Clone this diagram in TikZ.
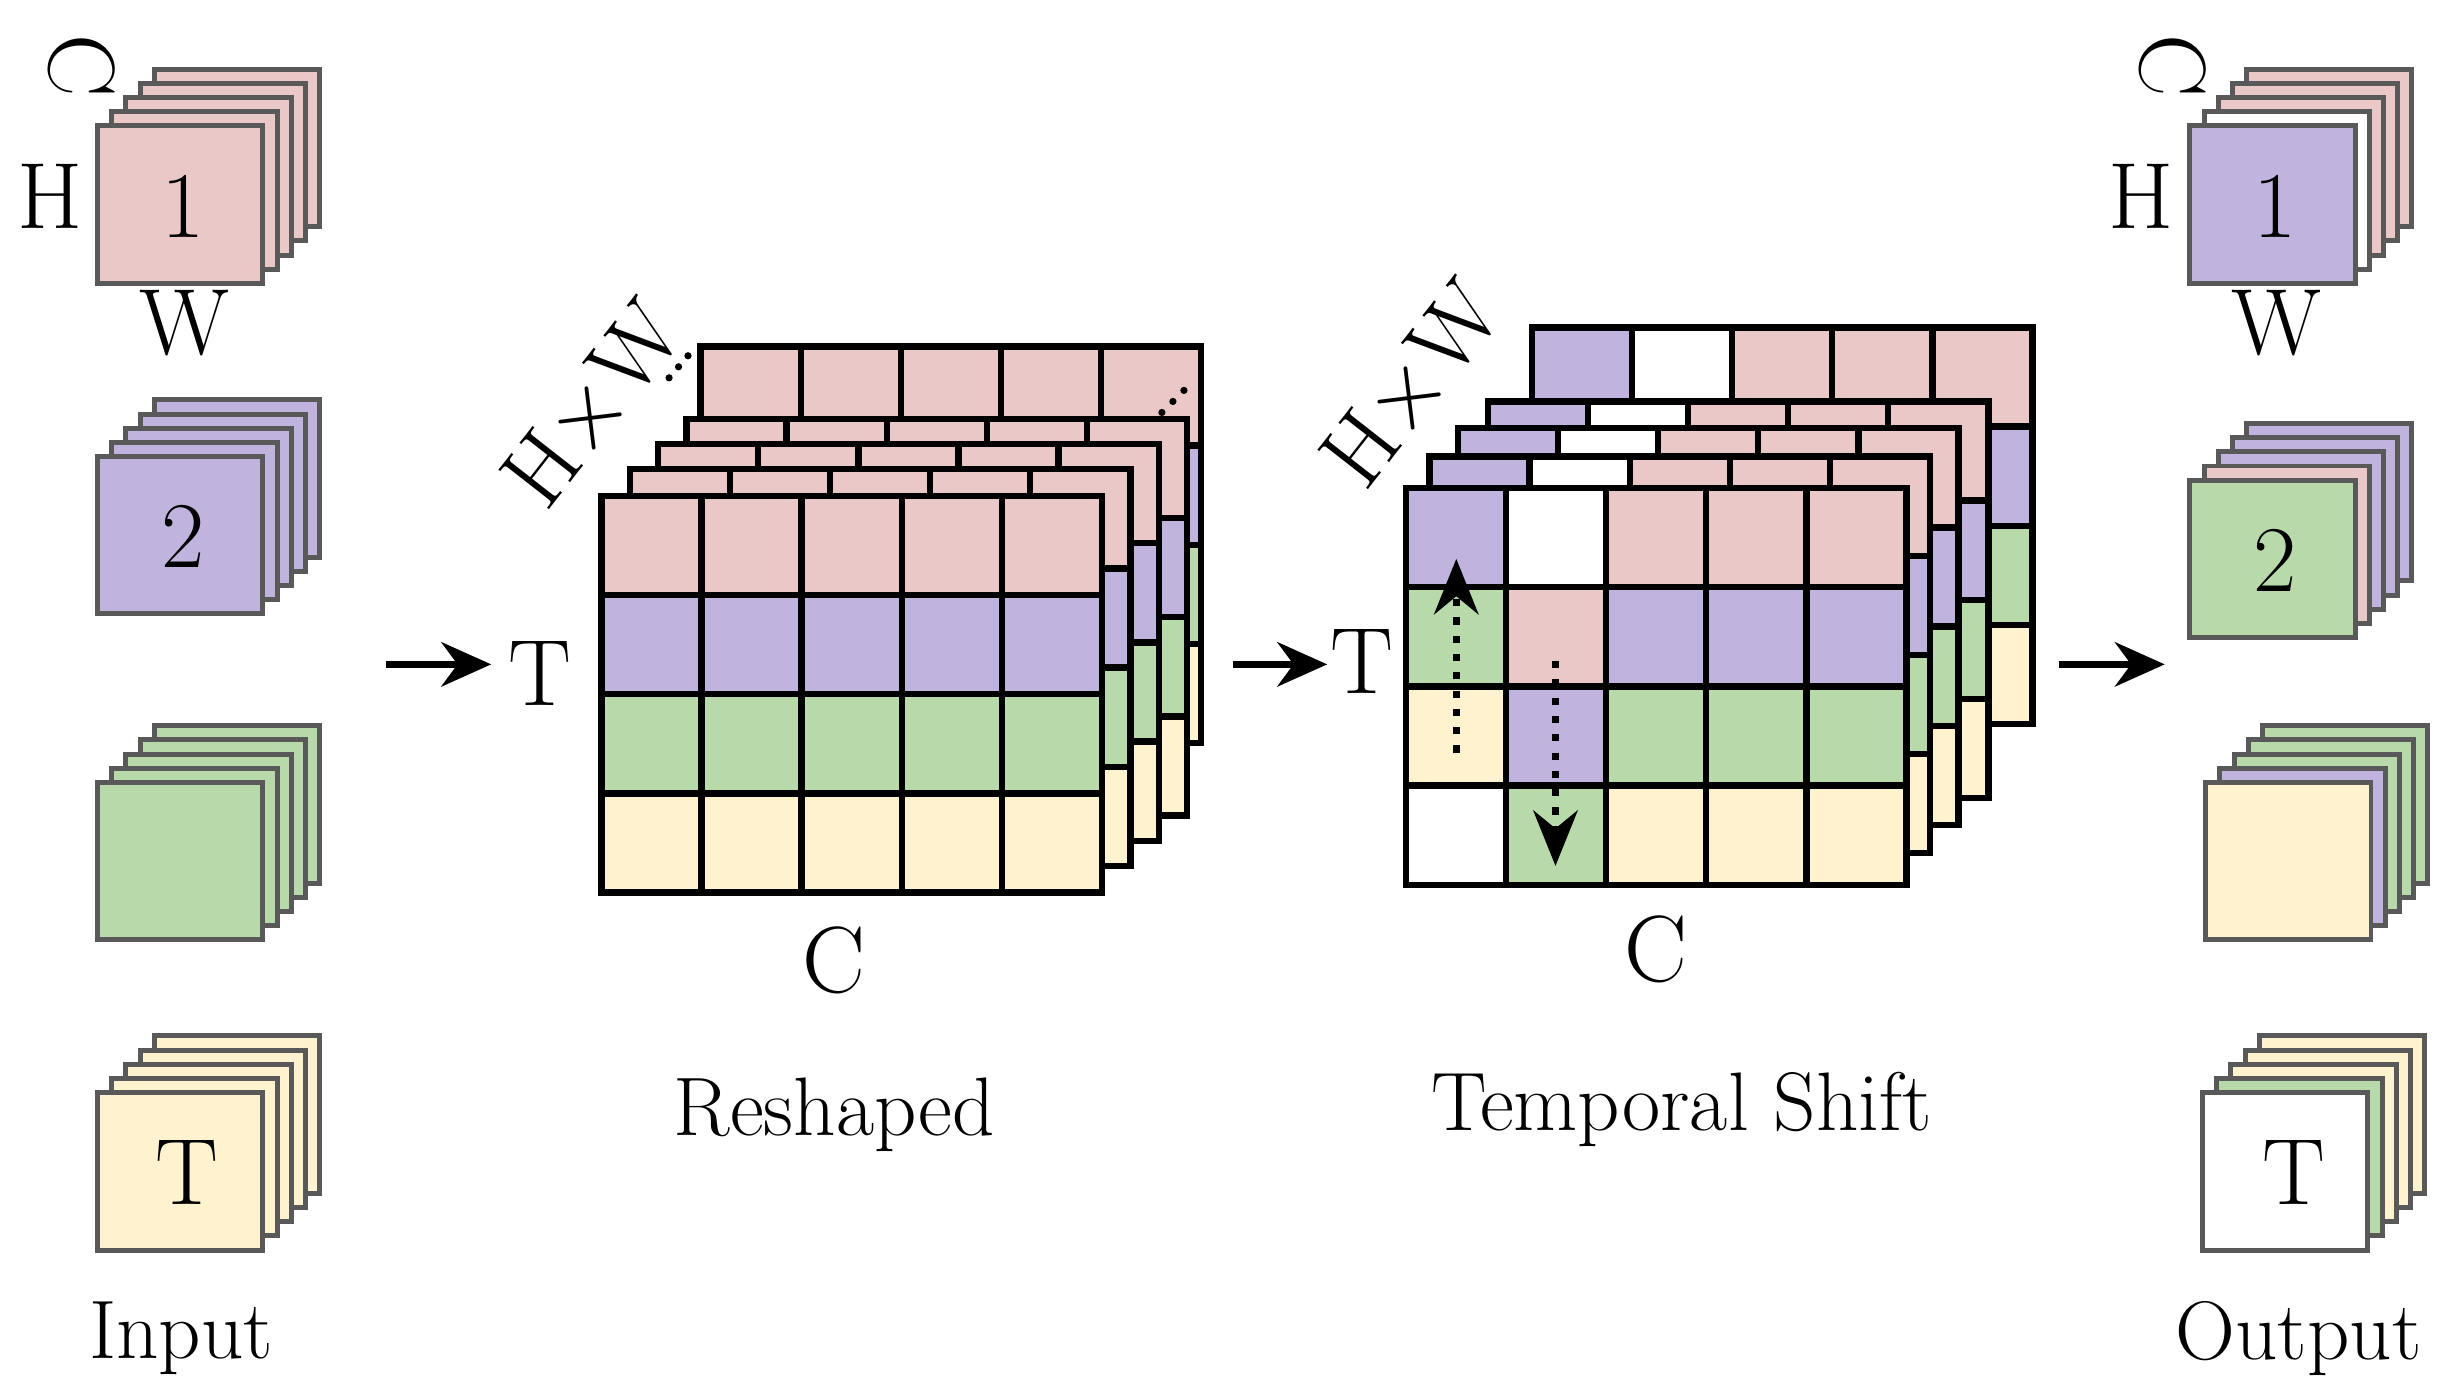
\documentclass[tikz,border=0pt]{standalone}
\usetikzlibrary{arrows.meta}
\definecolor{pk}{HTML}{EAC8C8}
\definecolor{pu}{HTML}{C0B3DE}
\definecolor{gr}{HTML}{B8DAAA}
\definecolor{ye}{HTML}{FFF2CF}
\definecolor{wh}{HTML}{FFFFFF}
\tikzset{
  cell/.style={draw=black,line width=1.15pt},
  sheet/.style={draw=black!65,line width=0.9pt},
  lbl/.style={font=\fontsize{17}{20}\selectfont},
  capt/.style={font=\fontsize{15}{18}\selectfont},
  arr/.style={-{Stealth[length=9pt,width=8pt]},line width=1.3pt},
  dar/.style={-{Stealth[length=10pt,width=8pt]},line width=1.3pt,dotted}
}
% grid: x y, macro holding 20 colors row-major
\newcommand{\mygrid}[3]{%
  \foreach \c [count=\i from 0] in #3{%
    \pgfmathtruncatemacro{\cc}{mod(\i,5)}%
    \pgfmathtruncatemacro{\rr}{int(\i/5)}%
    \fill[\c] ({#1+\cc*63.6},{#2+\rr*63}) rectangle ++(63.6,63);
    \draw[cell] ({#1+\cc*63.6},{#2+\rr*63}) rectangle ++(63.6,63);
  }
  \draw[cell] (#1,#2) rectangle ++(318,252);
}
% stack: x y (front top-left), colors back->front (5)
\newcommand{\mystack}[3]{%
  \foreach \c [count=\k from 0] in {#3}{%
    \pgfmathsetmacro{\o}{9*(4-\k)}%
    \draw[sheet,fill=\c] ({#1+\o},{#2-\o}) rectangle ++(105,100);
  }
}
\begin{document}
\begin{tikzpicture}[x=0.01cm,y=-0.01cm]
\useasboundingbox (0,0) rectangle (1560,883);
% input stacks
\mystack{62}{80}{pk,pk,pk,pk,pk}
\mystack{62}{290}{pu,pu,pu,pu,pu}
\mystack{62}{497}{gr,gr,gr,gr,gr}
\mystack{62}{694}{ye,ye,ye,ye,ye}
\node[lbl] (n1) at (116,131) {1};
\node[lbl] (n2) at (116,341) {2};
\node[lbl] (nT) at (119,745) {T};
\node[lbl,rotate=-90] (iC) at (52,42) {C};
\node[lbl] (iH) at (32,125) {H};
\node[lbl] (iW) at (117,205) {W};
\node[capt] (inp) at (115,850) {Input};
% output stacks
\mystack{1391}{80}{pk,pk,pk,wh,pu}
\mystack{1391}{305}{pu,pu,pu,pk,gr}
\mystack{1401}{497}{gr,gr,gr,pu,ye}
\mystack{1399}{694}{ye,ye,ye,gr,wh}
\node[lbl] (o1) at (1445,131) {1};
\node[lbl] (o2) at (1445,356) {2};
\node[lbl] (oT) at (1457,745) {T};
\node[lbl,rotate=-90] (oC) at (1380,42) {C};
\node[lbl] (oH) at (1360,125) {H};
\node[lbl] (oW) at (1446,205) {W};
\node[capt] (outp) at (1460,850) {Output};
% reshaped
\def\rs{pk,pk,pk,pk,pk,pu,pu,pu,pu,pu,gr,gr,gr,gr,gr,ye,ye,ye,ye,ye}
\mygrid{445}{220}{\rs}
\mygrid{436}{266}{\rs}
\mygrid{418}{282}{\rs}
\mygrid{400}{298}{\rs}
\mygrid{382}{315}{\rs}
\fill (425,240) circle (2.3) (431,233) circle (2.3) (437,226) circle (2.3);
\fill (738,262) circle (2.3) (745,255) circle (2.3) (752,248) circle (2.3);
\node[lbl,rotate=52] (rHW) at (378,258) {H$\times$W};
\node[lbl] (rT) at (343,428) {T};
\node[lbl] (rC) at (530,610) {C};
\node[capt] (rlab) at (530,708) {Reshaped};
% temporal shift
\def\ts{pu,wh,pk,pk,pk,gr,pk,pu,pu,pu,ye,pu,gr,gr,gr,wh,gr,ye,ye,ye}
\mygrid{973}{208}{\ts}
\mygrid{945}{255}{\ts}
\mygrid{926}{272}{\ts}
\mygrid{908}{290}{\ts}
\mygrid{893}{310}{\ts}
\coordinate (u0) at (925,478); \coordinate (u1) at (925,355);
\coordinate (d0) at (988,420); \coordinate (d1) at (988,550);
\draw[dar] (u0) -- (u1);
\draw[dar] (d0) -- (d1);
\node[lbl,rotate=52] (tHW) at (898,245) {H$\times$W};
\node[lbl] (tT) at (865,420) {T};
\node[lbl] (tC) at (1052,603) {C};
\node[capt] (tlab) at (1068,705) {Temporal Shift};
% arrows
\coordinate (a0) at (245,422); \coordinate (a1) at (312,422);
\coordinate (b0) at (783,422); \coordinate (b1) at (843,422);
\coordinate (c0) at (1308,422); \coordinate (c1) at (1375,422);
\draw[arr] (a0) -- (a1);
\draw[arr] (b0) -- (b1);
\draw[arr] (c0) -- (c1);
\end{tikzpicture}
\end{document}
